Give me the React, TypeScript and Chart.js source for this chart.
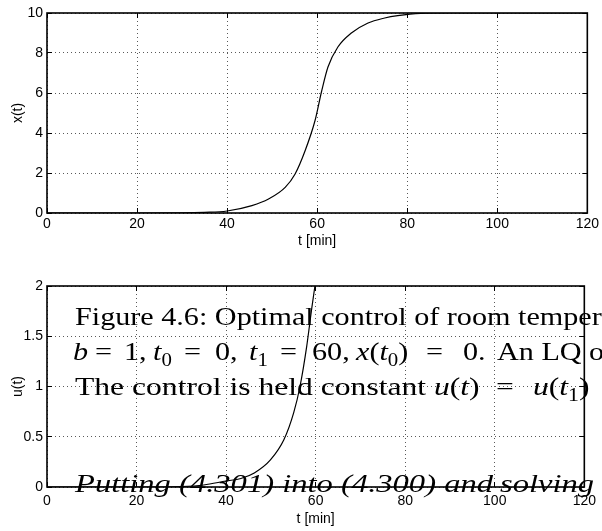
import React, { useEffect, useRef } from "react";
import { Chart, registerables } from "chart.js";
Chart.register(...registerables);

// ---- data ----
const tTop = [0, 10, 20, 30, 35, 40, 45.5, 49.2, 52.9, 55.1, 57.3, 59.5, 61, 62.4, 64.6, 67.6, 71.3, 75, 77.9, 83, 90, 100, 110, 120];
const xValues = [0, 0, 0, 0.005, 0.03, 0.1, 0.37, 0.7, 1.28, 1.95, 3.1, 4.6, 6.1, 7.3, 8.3, 9.0, 9.5, 9.75, 9.87, 9.98, 10, 10, 10, 10];

const tBottom = [0, 10, 20, 30, 35, 40, 43.3, 46.3, 49.9, 52.9, 55.1, 56.5, 58, 59.1, 60];
const uValues = [0, 0, 0, 0.005, 0.02, 0.06, 0.085, 0.14, 0.27, 0.47, 0.74, 1.0, 1.4, 1.77, 2.05];

const tTicks = [0, 20, 40, 60, 80, 100, 120];
const xTicks = [0, 2, 4, 6, 8, 10];
const uTicks = [0, 0.5, 1, 1.5, 2];

const xTitle = "t [min]";
const yTitleTop = "x(t)";
const yTitleBottom = "u(t)";

// caption text that overlaps the lower plot (s: r roman, i math italic, sub subscript, it text italic; x: optional start pixel)
type Seg = { t: string; s: "r" | "i" | "sub" | "it"; x?: number };
const captionLines: { segs: Seg[]; baseline: number; ownScale: boolean }[] = [
  {
    segs: [
      { t: "Figure 4.6: Optimal control of room ", s: "r", x: 75 },
      { t: "temperature", s: "r", x: 518 },
    ],
    baseline: 59.5, ownScale: true,
  },
  {
    segs: [
      { t: "b", s: "i", x: 73 }, { t: "=", s: "r", x: 95 }, { t: "1,", s: "r", x: 124 },
      { t: "t", s: "i", x: 153 }, { t: "0", s: "sub" }, { t: "=", s: "r", x: 184 }, { t: "0,", s: "r", x: 215 },
      { t: "t", s: "i", x: 249 }, { t: "1", s: "sub" }, { t: "=", s: "r", x: 280 },
      { t: "60,", s: "r", x: 312 },
      { t: "x", s: "i", x: 356 }, { t: "(", s: "r" }, { t: "t", s: "i" }, { t: "0", s: "sub" }, { t: ")", s: "r" },
      { t: "=", s: "r", x: 426 }, { t: "0.", s: "r", x: 463 }, { t: "An LQ optimal", s: "r", x: 497 },
    ],
    baseline: 94.5, ownScale: false,
  },
  {
    segs: [
      { t: "The control is held constant ", s: "r", x: 75 }, { t: "u", s: "i", x: 434 }, { t: "(", s: "r" },
      { t: "t", s: "i" }, { t: ")", s: "r" }, { t: "=", s: "r", x: 496 }, { t: "u", s: "i", x: 533 }, { t: "(", s: "r" },
      { t: "t", s: "i" }, { t: "1", s: "sub" }, { t: ")  for", s: "r" },
    ],
    baseline: 129.5, ownScale: true,
  },
  {
    segs: [
      { t: "Putting (4.301) into ", s: "it", x: 75 },
      { t: "(4.300) and ", s: "it", x: 341 },
      { t: "solving for", s: "it", x: 500 },
    ],
    baseline: 226.5, ownScale: true,
  },
];

const FONT = '"Liberation Sans", Arial, Helvetica, sans-serif';
const SERIF = '"Liberation Serif", "Times New Roman", serif';

function segFont(s: string) {
  if (s === "i" || s === "it") return `italic 26px ${SERIF}`;
  if (s === "sub") return `18px ${SERIF}`;
  return `26px ${SERIF}`;
}

const boxPlugin = {
  id: "matlabBox",
  afterDraw(chart: any) {
    const { ctx, chartArea: a, scales } = chart;
    ctx.save();
    ctx.setLineDash([]);
    ctx.strokeStyle = "#000";
    ctx.lineWidth = 1;
    const L = 5;
    ctx.beginPath();
    scales.x.ticks.forEach((tk: any) => {
      const px = Math.round(scales.x.getPixelForValue(tk.value) - 0.5) + 0.5;
      ctx.moveTo(px, a.bottom);
      ctx.lineTo(px, a.bottom - L);
      ctx.moveTo(px, a.top);
      ctx.lineTo(px, a.top + L);
    });
    scales.y.ticks.forEach((tk: any) => {
      const py = Math.round(scales.y.getPixelForValue(tk.value) - 0.5) + 0.5;
      ctx.moveTo(a.left, py);
      ctx.lineTo(a.left + L, py);
      ctx.moveTo(a.right, py);
      ctx.lineTo(a.right - L, py);
    });
    ctx.stroke();
    ctx.lineWidth = 1.6;
    ctx.strokeRect(a.left, a.top, a.right - a.left, a.bottom - a.top);
    ctx.restore();
  },
};

function lineScale(ctx: CanvasRenderingContext2D, segs: Seg[]) {
  // scale from the first segment to the next anchored segment
  let w = 0;
  for (let i = 0; i < segs.length; i++) {
    if (i > 0 && segs[i].x !== undefined) {
      return (segs[i].x! - segs[0].x!) / w;
    }
    ctx.font = segFont(segs[i].s);
    w += ctx.measureText(segs[i].t).width;
  }
  return 1;
}

const captionPlugin = {
  id: "caption",
  beforeDatasetsDraw(chart: any) {
    const ctx = chart.ctx as CanvasRenderingContext2D;
    ctx.save();
    ctx.fillStyle = "#000";
    ctx.textBaseline = "alphabetic";
    ctx.textAlign = "left";
    const baseScale = lineScale(ctx, captionLines[0].segs);
    captionLines.forEach((line) => {
      const sx = line.ownScale ? lineScale(ctx, line.segs) : baseScale;
      let cx = 0;
      line.segs.forEach((sg) => {
        if (sg.x !== undefined) cx = sg.x;
        ctx.font = segFont(sg.s);
        const w = ctx.measureText(sg.t).width * sx;
        ctx.save();
        ctx.translate(cx, line.baseline + (sg.s === "sub" ? 6 : 0));
        ctx.scale(sx, 1);
        ctx.fillText(sg.t, 0, 0);
        ctx.restore();
        cx += w;
      });
    });
    ctx.restore();
  },
};

function makeConfig(
  ts: number[], vs: number[], yTicks: number[], yMax: number, yTitle: string,
  padTop: number, xHeight: number, xTickPad: number, xTitlePad: number, extra: any[]
): any {
  return {
    type: "line",
    data: {
      datasets: [
        {
          data: ts.map((t, i) => ({ x: t, y: vs[i] })),
          borderColor: "#000",
          borderWidth: 1.2,
          pointRadius: 0,
          fill: false,
          cubicInterpolationMode: "monotone",
        },
      ],
    },
    plugins: [...extra, boxPlugin],
    options: {
      animation: false,
      responsive: false,
      devicePixelRatio: 1,
      layout: { padding: { left: 0, right: 11, top: padTop, bottom: 0 } },
      plugins: { legend: { display: false }, tooltip: { enabled: false } },
      scales: {
        x: {
          type: "linear",
          min: 0,
          max: 120,
          afterBuildTicks: (s: any) => { s.ticks = tTicks.map((v) => ({ value: v })); },
          afterFit: (s: any) => { s.height = xHeight; },
          ticks: {
            color: "#000",
            font: { family: FONT, size: 14 },
            padding: xTickPad,
            maxRotation: 0,
            autoSkip: false,
            callback: (v: any) => String(v),
          },
          grid: { color: "rgba(0,0,0,0.65)", lineWidth: 1, drawTicks: false },
          border: { display: false, dash: [1, 3] },
          title: {
            display: true,
            text: xTitle,
            color: "#000",
            font: { family: FONT, size: 14 },
            padding: { top: 0, bottom: xTitlePad },
          },
        },
        y: {
          type: "linear",
          min: 0,
          max: yMax,
          afterBuildTicks: (s: any) => { s.ticks = yTicks.map((v) => ({ value: v })); },
          afterFit: (s: any) => { s.width = 47; },
          ticks: {
            color: "#000",
            font: { family: FONT, size: 14 },
            padding: 4,
            autoSkip: false,
            callback: (v: any) => String(v),
          },
          grid: { color: "rgba(0,0,0,0.65)", lineWidth: 1, drawTicks: false },
          border: { display: false, dash: [1, 3] },
          title: {
            display: true,
            text: yTitle,
            color: "#000",
            font: { family: FONT, size: 14 },
            padding: { top: 9.5, bottom: 0 },
          },
        },
      },
    },
  };
}

export default function App() {
  const topRef = useRef<HTMLCanvasElement>(null);
  const botRef = useRef<HTMLCanvasElement>(null);

  useEffect(() => {
    const c1 = new Chart(
      topRef.current as HTMLCanvasElement,
      makeConfig(tTop, xValues, xTicks, 10, yTitleTop, 13, 52, 3, 15, [])
    );
    const c2 = new Chart(
      botRef.current as HTMLCanvasElement,
      makeConfig(tBottom, uValues, uTicks, 2, yTitleBottom, 21, 44, 6, 3.5, [captionPlugin])
    );
    return () => {
      c1.destroy();
      c2.destroy();
    };
  }, []);

  return (
    <div style={{ position: "fixed", left: 0, top: 0, width: 602, height: 531, background: "#fff" }}>
      <canvas ref={topRef} width={602} height={265} style={{ display: "block", width: 602, height: 265 }} />
      <canvas ref={botRef} width={602} height={266} style={{ display: "block", width: 602, height: 266 }} />
    </div>
  );
}
